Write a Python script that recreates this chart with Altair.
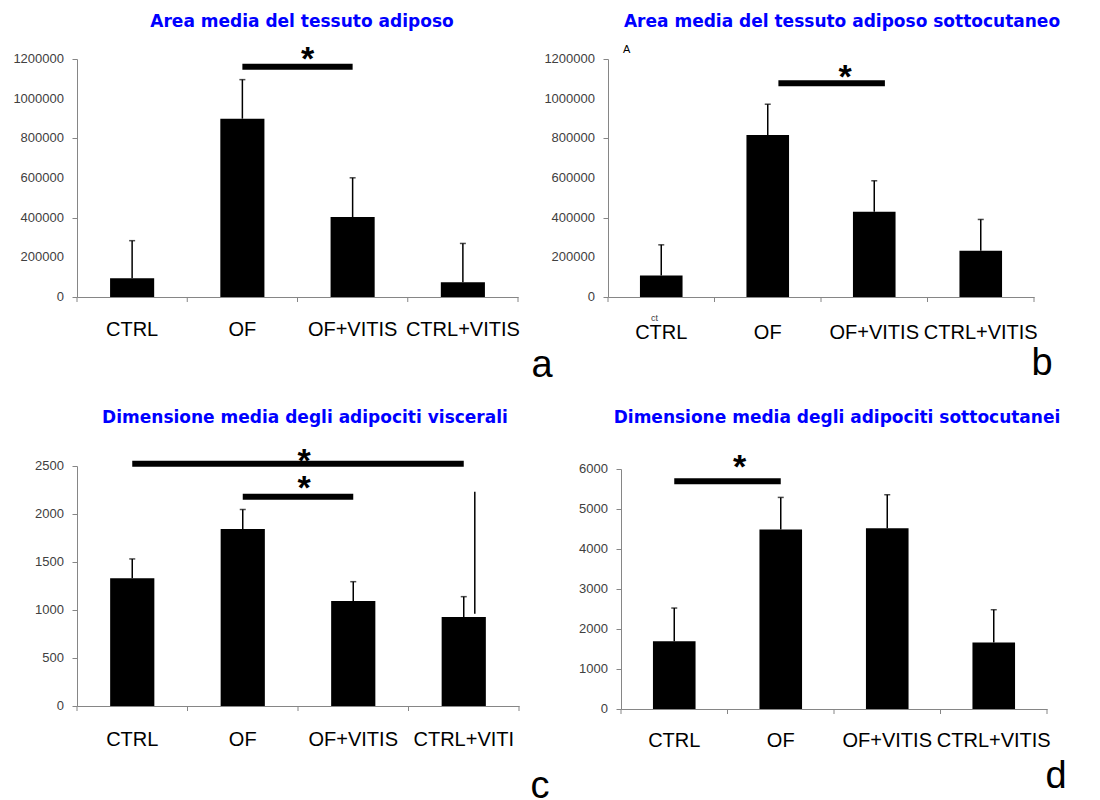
import altair as alt
import pandas as pd

categories = ["CTRL", "OF", "OF+VITIS", "CTRL+VITIS"]

# Panel a - Area media del tessuto adiposo
a_means = [94000, 899000, 403000, 74000]
a_errs = [190000, 197000, 198000, 196000]
a_ticks = [0, 200000, 400000, 600000, 800000, 1000000, 1200000]

# Panel b - Area media del tessuto adiposo sottocutaneo
b_means = [109000, 817000, 430000, 233000]
b_errs = [154000, 155000, 156000, 158000]
b_ticks = [0, 200000, 400000, 600000, 800000, 1000000, 1200000]

# Panel c - Dimensione media degli adipociti viscerali
c_means = [1330, 1845, 1093, 926]
c_errs = [202, 202, 202, 213]
c_ticks = [0, 500, 1000, 1500, 2000, 2500]
c_stray_lo = [961]
c_stray_hi = [2232]

# Panel d - Dimensione media degli adipociti sottocutanei
d_means = [1696, 4487, 4521, 1663]
d_errs = [828, 803, 836, 819]
d_ticks = [0, 1000, 2000, 3000, 4000, 5000, 6000]

# significance bars: start group, end group, bar level, star level, group whose band end is the middle
a_sig_start, a_sig_end, a_sig_level, a_star_level, a_star_mid = ["OF"], ["OF+VITIS"], [1161000], [1230000], ["OF"]
b_sig_start, b_sig_end, b_sig_level, b_star_level, b_star_mid = ["OF"], ["OF+VITIS"], [1077500], [1139500], ["OF"]
c_sig_start, c_sig_end, c_sig_level, c_star_level, c_star_mid = ["CTRL", "OF"], ["CTRL+VITIS", "OF+VITIS"], [2524, 2180], [2618, 2330], ["OF", "OF"]
d_sig_start, d_sig_end, d_sig_level, d_star_level, d_star_mid = ["CTRL"], ["OF"], [5691], [6195], ["CTRL"]

titles = [
    "Area media del tessuto adiposo",
    "Area media del tessuto adiposo sottocutaneo",
    "Dimensione media degli adipociti viscerali",
    "Dimensione media degli adipociti sottocutanei",
]
letters = ["a", "b", "c", "d"]

GREY = "#868686"


def panel(means, errs, ticks, sig_start, sig_end, sig_level, star_level, star_mid,
          title, letter, w, h, label_pad, title_xy, letter_xy, star_dx, sig_band,
          label_expr=None, x0=0, y0=0):
    df = pd.DataFrame({"cat": categories, "mean": means, "err": errs})
    xscale = alt.Scale(domain=categories, paddingInner=0, paddingOuter=0, range=[x0, w])
    yscale = alt.Scale(domain=[ticks[0], ticks[-1]], nice=False, zero=True, range=[h, y0])
    xaxis_kwargs = dict(title=None, ticks=False, tickSize=0, labelPadding=label_pad,
                        labelAngle=0, labelFontSize=20, labelFont="Liberation Sans",
                        labelColor="black", domainColor=GREY, labelOverlap=False,
                        labelLimit=300)
    if label_expr:
        xaxis_kwargs["labelExpr"] = label_expr
    xaxis = alt.Axis(**xaxis_kwargs)
    yaxis_kwargs = dict(values=ticks, title=None, grid=False, domainColor=GREY,
                        tickColor=GREY, tickSize=5, labels=False)
    if x0:
        yaxis_kwargs["offset"] = -x0
    yaxis = alt.Axis(**yaxis_kwargs)

    base = alt.Chart(df)
    bars = base.mark_bar(color="black", width=alt.RelativeBandSize(0.4)).encode(
        x=alt.X("cat:N", sort=categories, scale=xscale, axis=xaxis),
        y=alt.Y("mean:Q", scale=yscale, axis=yaxis),
    )
    ylabels = alt.Chart(pd.DataFrame({"mean": ticks})).mark_text(
        font="Liberation Sans", fontSize=13, color="#404040", align="right",
        baseline="middle", dx=-13,
    ).encode(
        x=alt.value(x0),
        y=alt.Y("mean:Q", title=None),
        text=alt.Text("mean:Q", format="d"),
    )
    err = base.transform_calculate(upper="datum.mean + datum.err").mark_rule(
        color="black", strokeWidth=1.5).encode(
        x=alt.X("cat:N", sort=categories, title=None),
        y=alt.Y("mean:Q", title=None),
        y2="upper:Q",
    )
    caps = base.transform_calculate(upper="datum.mean + datum.err").mark_tick(
        color="black", thickness=1.5, size=6, orient="horizontal").encode(
        x=alt.X("cat:N", sort=categories, title=None),
        y=alt.Y("upper:Q", title=None),
    )
    xticks = base.mark_rule(color=GREY, strokeWidth=1).encode(
        x=alt.X("cat:N", sort=categories, bandPosition=0, title=None),
        y=alt.value(h), y2=alt.value(h + 5),
    )
    end_tick = alt.Chart(pd.DataFrame({"k": [0]})).mark_rule(color=GREY, strokeWidth=1).encode(
        x=alt.value(w), y=alt.value(h), y2=alt.value(h + 5),
    )
    sig_df = pd.DataFrame({"cat": sig_start, "end": sig_end, "level": sig_level,
                           "star": star_level, "mid": star_mid})
    sig = alt.Chart(sig_df).mark_rule(color="black", strokeWidth=6).encode(
        x=alt.X("cat:N", sort=categories, bandPosition=sig_band, title=None),
        x2=alt.X2("end:N", bandPosition=sig_band),
        y=alt.Y("level:Q", title=None),
    )
    stars = alt.Chart(sig_df).mark_text(
        text="*", font="Liberation Sans", fontWeight="bold", fontSize=34,
        color="black", align="center", baseline="alphabetic", dx=star_dx, dy=17,
    ).encode(
        x=alt.X("mid:N", sort=categories, bandPosition=1, title=None),
        y=alt.Y("star:Q", title=None),
    )
    title_mark = alt.Chart(pd.DataFrame({"t": [title]})).mark_text(
        font="DejaVu Sans", fontWeight="bold", fontSize=17, color="#0000FF",
        align="center", baseline="alphabetic",
    ).encode(x=alt.value(x0 + title_xy[0]), y=alt.value(title_xy[1]), text="t:N")
    letter_mark = alt.Chart(pd.DataFrame({"t": [letter]})).mark_text(
        font="Liberation Sans", fontSize=38, color="black",
        align="center", baseline="alphabetic",
    ).encode(x=alt.value(x0 + letter_xy[0]), y=alt.value(letter_xy[1]), text="t:N")
    layers = [bars, ylabels, err, caps, xticks, end_tick, sig, stars, title_mark, letter_mark]
    return layers


la = panel(a_means, a_errs, a_ticks, a_sig_start, a_sig_end, a_sig_level, a_star_level,
           a_star_mid, titles[0], letters[0], 441, 238, 22, (225, -32), (465, 318), 10, 0.5)
pa = alt.layer(*la).properties(width=441, height=238)

lb = panel(b_means, b_errs, b_ticks, b_sig_start, b_sig_end, b_sig_level, b_star_level,
           b_star_mid, titles[1], letters[1], 426, 238, 25, (234, -32), (434, 316), 24, 0.6)
stray_a = alt.Chart(pd.DataFrame({"t": ["A"]})).mark_text(
    font="Liberation Sans", fontSize=11, color="black", align="left", baseline="alphabetic"
).encode(x=alt.value(15), y=alt.value(-6), text="t:N")
stray_ct = alt.Chart(pd.DataFrame({"t": ["ct"]})).mark_text(
    font="Liberation Sans", fontSize=9, color="#404040", align="left", baseline="alphabetic"
).encode(x=alt.value(43), y=alt.value(262), text="t:N")
pb = alt.layer(*lb, stray_a, stray_ct).properties(width=426, height=238)

lc = panel(c_means, c_errs, c_ticks, c_sig_start, c_sig_end, c_sig_level, c_star_level,
           c_star_mid, titles[2], letters[2], 442, 240, 23, (228, -43), (463, 332), 6, 0.5,
           label_expr="datum.label == 'CTRL+VITIS' ? 'CTRL+VITI' : datum.label")
stray_line = alt.Chart(pd.DataFrame({"cat": ["CTRL+VITIS"], "lo": c_stray_lo, "hi": c_stray_hi})).mark_rule(
    color="black", strokeWidth=1.5).encode(
    x=alt.X("cat:N", sort=categories, bandPosition=0.6, title=None),
    y=alt.Y("lo:Q", title=None), y2="hi:Q",
)
pc = alt.layer(*lc, stray_line).properties(width=442, height=240)

ld = panel(d_means, d_errs, d_ticks, d_sig_start, d_sig_end, d_sig_level, d_star_level,
           d_star_mid, titles[3], letters[3], 439, 243, 21, (216, -43), (435, 322), 12, 0.5,
           x0=13, y0=3)
pd_ = alt.layer(*ld).properties(width=439, height=243)

chart = alt.concat(
    pa, pb, pc, pd_, columns=2, bounds="flush",
    spacing=alt.RowColnumber(row=169, column=89),
).configure_view(stroke=None)

chart.save("out.html", embed_options={"renderer": "svg", "actions": False})
